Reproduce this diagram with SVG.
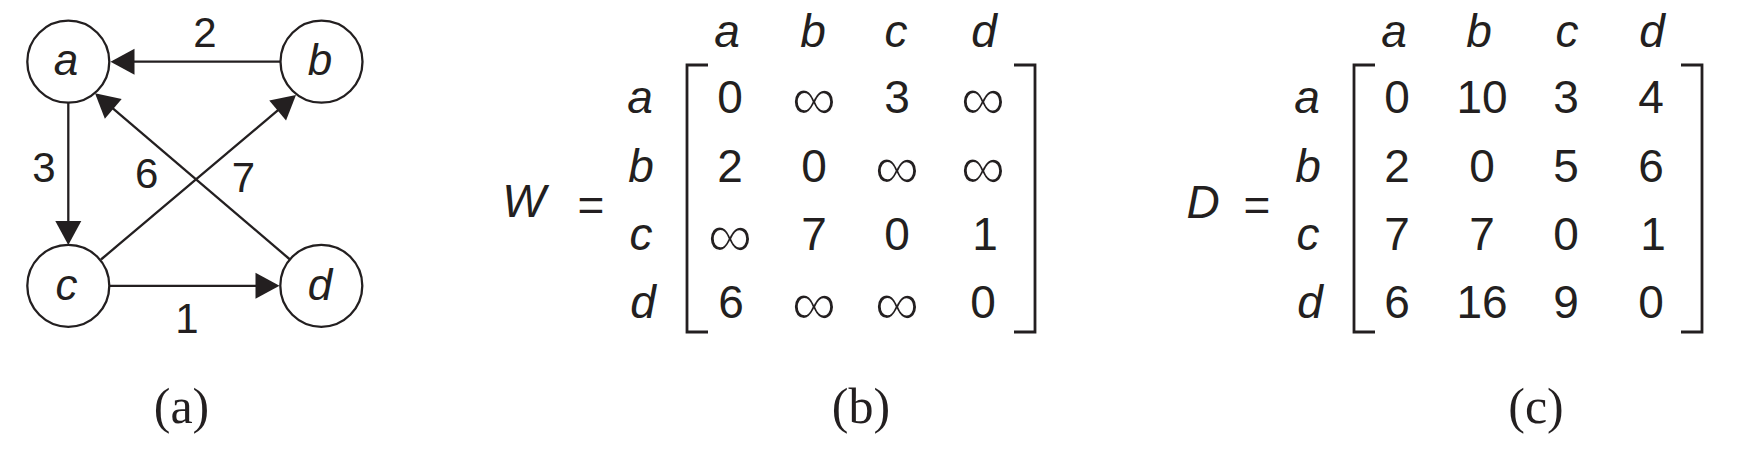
<svg xmlns="http://www.w3.org/2000/svg" width="1741" height="461" viewBox="0 0 1741 461">
<style>
.bg{fill:#ffffff}
.node{fill:#ffffff;stroke:#231f20;stroke-width:2.3}
.edge{stroke:#231f20;stroke-width:2.3;fill:none}
.br{stroke:#231f20;stroke-width:2.8;fill:none;stroke-linejoin:miter}
.lab{font-family:"Liberation Sans",Arial,sans-serif;font-style:italic;font-size:44px;fill:#231f20;text-anchor:middle}
.w{font-family:"Liberation Sans",Arial,sans-serif;font-size:42px;fill:#231f20;text-anchor:middle}
.it{font-family:"Liberation Sans",Arial,sans-serif;font-style:italic;font-size:46px;fill:#231f20;text-anchor:middle}
.num{font-family:"Liberation Sans",Arial,sans-serif;font-size:46px;fill:#231f20;text-anchor:middle}
.inf{font-family:"Liberation Sans",Arial,sans-serif;font-size:63px;fill:#231f20;stroke:#ffffff;stroke-width:1.4;text-anchor:middle}
.cap{font-family:"Liberation Serif","Times New Roman",serif;font-size:50px;fill:#231f20;text-anchor:middle}
</style>
<defs>
<marker id="arr" markerUnits="userSpaceOnUse" markerWidth="24" markerHeight="26" refX="21" refY="13" orient="auto" overflow="visible">
<path d="M0,0 L24,13 L0,26 Z" fill="#231f20"/>
</marker>
</defs>
<rect class="bg" x="0" y="0" width="1741" height="461"/>
<g id="connectors">
<line class="edge" x1="280" y1="61.7" x2="113.5" y2="61.7" marker-end="url(#arr)"/>
<line class="edge" x1="68.3" y1="102.7" x2="68.3" y2="242" marker-end="url(#arr)"/>
<line class="edge" x1="109.3" y1="285.8" x2="276.5" y2="285.8" marker-end="url(#arr)"/>
<line class="edge" x1="101" y1="259.5" x2="293.7" y2="96.9" marker-end="url(#arr)"/>
<line class="edge" x1="290" y1="259.5" x2="97.3" y2="95.2" marker-end="url(#arr)"/>
<text class="w" x="205" y="46.7">2</text>
<text class="w" x="44" y="182">3</text>
<text class="w" x="146.7" y="187.5">6</text>
<text class="w" x="243.5" y="192">7</text>
<text class="w" x="187" y="333">1</text>
</g>
<g id="node-a"><circle class="node" cx="68.3" cy="61.7" r="41"/><text class="lab" x="66" y="75">a</text></g>
<g id="node-b"><circle class="node" cx="321.5" cy="61.7" r="41"/><text class="lab" x="320" y="75">b</text></g>
<g id="node-c"><circle class="node" cx="68.3" cy="285.8" r="41"/><text class="lab" x="66.5" y="299.5">c</text></g>
<g id="node-d"><circle class="node" cx="321.3" cy="285.8" r="41"/><text class="lab" x="320" y="299.5">d</text></g>
<g id="caption-a"><text class="cap" x="181.5" y="423">(a)</text></g>

<g id="matrix-W">
<text class="it" x="524" y="217">W</text>
<text class="num" x="591" y="221">=</text>
<text class="it" x="727" y="47">a</text>
<text class="it" x="813" y="47">b</text>
<text class="it" x="896" y="47">c</text>
<text class="it" x="984" y="47">d</text>
<text class="it" x="640" y="113">a</text>
<text class="it" x="641" y="182">b</text>
<text class="it" x="641" y="250">c</text>
<text class="it" x="643" y="318">d</text>
<path class="br" d="M708,65 H687 V332 H708"/>
<path class="br" d="M1014,65 H1035 V332 H1014"/>
<text class="num" x="730" y="113">0</text><text class="inf" x="814" y="120">∞</text><text class="num" x="897" y="113">3</text><text class="inf" x="983" y="120">∞</text>
<text class="num" x="730" y="182">2</text><text class="num" x="814" y="182">0</text><text class="inf" x="897" y="189">∞</text><text class="inf" x="983" y="189">∞</text>
<text class="inf" x="730" y="257">∞</text><text class="num" x="814" y="250">7</text><text class="num" x="897" y="250">0</text><text class="num" x="985" y="250">1</text>
<text class="num" x="731" y="318">6</text><text class="inf" x="814" y="325">∞</text><text class="inf" x="897" y="325">∞</text><text class="num" x="983" y="318">0</text>
</g>
<g id="caption-b"><text class="cap" x="861" y="423">(b)</text></g>

<g id="matrix-D">
<text class="it" x="1203" y="218">D</text>
<text class="num" x="1257" y="221">=</text>
<text class="it" x="1394" y="47">a</text>
<text class="it" x="1479" y="47">b</text>
<text class="it" x="1567" y="47">c</text>
<text class="it" x="1652" y="47">d</text>
<text class="it" x="1307" y="113">a</text>
<text class="it" x="1308" y="182">b</text>
<text class="it" x="1308" y="250">c</text>
<text class="it" x="1310" y="318">d</text>
<path class="br" d="M1375,65 H1354 V332 H1375"/>
<path class="br" d="M1681,65 H1702 V332 H1681"/>
<text class="num" x="1397" y="113">0</text><text class="num" x="1482" y="113">10</text><text class="num" x="1566" y="113">3</text><text class="num" x="1651" y="113">4</text>
<text class="num" x="1397" y="182">2</text><text class="num" x="1482" y="182">0</text><text class="num" x="1566" y="182">5</text><text class="num" x="1651" y="182">6</text>
<text class="num" x="1397" y="250">7</text><text class="num" x="1482" y="250">7</text><text class="num" x="1566" y="250">0</text><text class="num" x="1653" y="250">1</text>
<text class="num" x="1397" y="318">6</text><text class="num" x="1482" y="318">16</text><text class="num" x="1566" y="318">9</text><text class="num" x="1651" y="318">0</text>
</g>
<g id="caption-c"><text class="cap" x="1536" y="423">(c)</text></g>
</svg>
